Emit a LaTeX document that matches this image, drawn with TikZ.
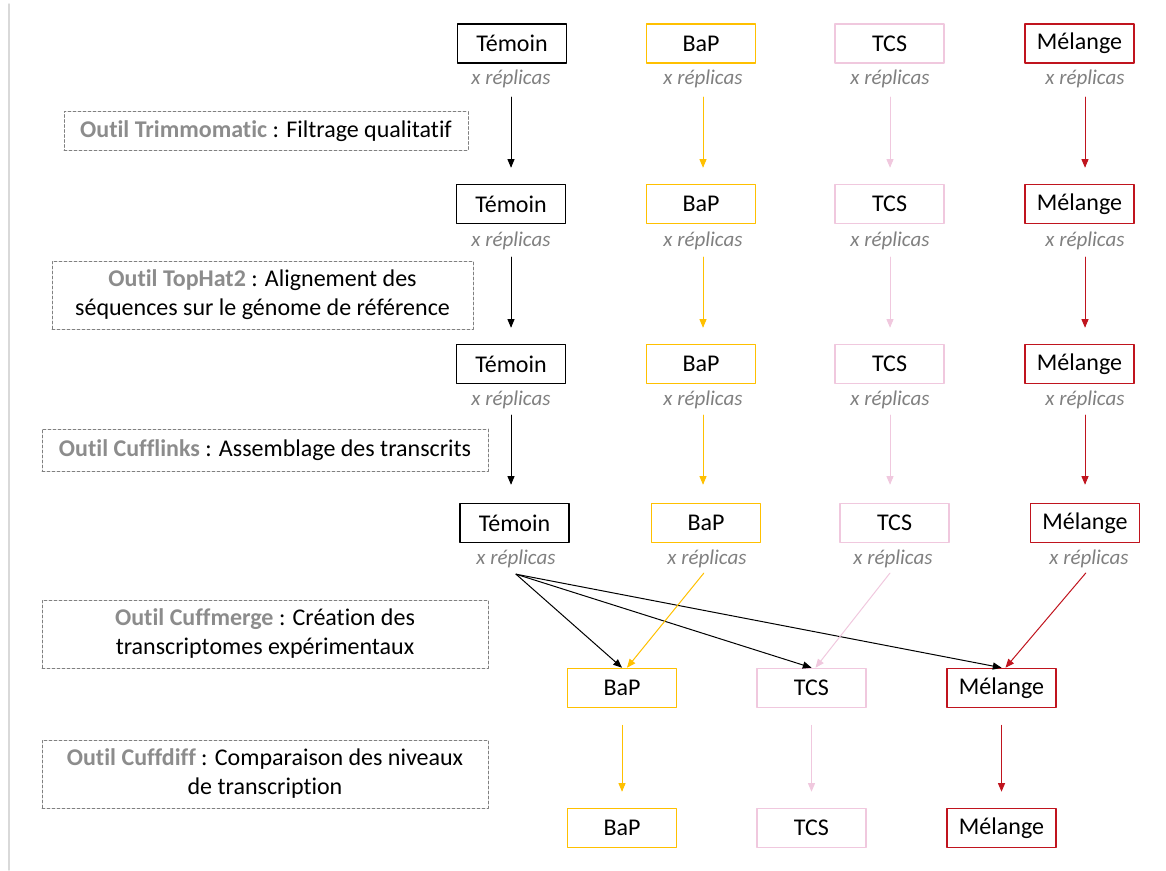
\documentclass[tikz,border=0pt]{standalone}
\usepackage{fontspec}
\setmainfont{Carlito}[Ligatures=NoCommon]
\usetikzlibrary{arrows}
\definecolor{jaune}{RGB}{255,192,0}
\definecolor{rose}{RGB}{240,200,222}
\definecolor{rouge}{RGB}{192,20,30}
\definecolor{grisrep}{RGB}{128,128,128}
\definecolor{grisoutil}{RGB}{140,140,140}
\tikzset{
	boite/.style={draw,line width=1.6pt,minimum width=109pt,minimum height=39pt,inner sep=0pt,font=\fontsize{24}{28}\selectfont},
	repl/.style={text=grisrep,inner sep=1pt,font=\fontsize{21}{24}\selectfont\itshape},
	outil/.style={draw=grisrep,dash pattern=on 3pt off 2pt,line width=0.8pt,align=center,inner sep=0pt,font=\fontsize{24}{29}\selectfont},
	fl/.style={->,line width=1pt},
}
\newcommand{\nomoutil}[1]{\textcolor{grisoutil}{\textbf{#1}}}

\begin{document}
\begin{tikzpicture}[line cap=round,line join=round,>=triangle 45,x=1pt,y=-1pt]
	\useasboundingbox (0,0) rectangle (1166,870);
	\draw [line width=1.5pt,color=black!15] (9,4) -- (9,870);
	% les outils
	\node[outil,minimum width=404pt,minimum height=39pt] (o1) at (266,131) {\nomoutil{Outil Trimmomatic} : Filtrage qualitatif};
	\node[outil,minimum width=421pt,minimum height=68pt] (o2) at (262.5,295) {\nomoutil{Outil TopHat2} : Alignement des\\séquences sur le génome de référence};
	\node[outil,minimum width=446pt,minimum height=42pt] (o3) at (265,450) {\nomoutil{Outil Cufflinks} : Assemblage des transcrits};
	\node[outil,minimum width=446pt,minimum height=68pt] (o4) at (265,634) {\nomoutil{Outil Cuffmerge} : Création des\\transcriptomes expérimentaux};
	\node[outil,minimum width=446pt,minimum height=68pt] (o5) at (265,774) {\nomoutil{Outil Cuffdiff} : Comparaison des niveaux\\de transcription};
	% lignes 1 a 3
	\node[boite] (t1) at (512,43.5) {Témoin};
	\node[boite,draw=jaune] (b1) at (701,43.5) {BaP};
	\node[boite,draw=rose] (c1) at (889.5,43.5) {TCS};
	\node[boite,draw=rouge] (m1) at (1079.5,43.5) {Mélange};
	\node[repl] (rt1) at (511,79) {x réplicas};
	\node[repl] (rb1) at (703,79) {x réplicas};
	\node[repl] (rc1) at (890,79) {x réplicas};
	\node[repl] (rm1) at (1085,79) {x réplicas};
	\node[boite] (t2) at (511,204) {Témoin};
	\node[boite,draw=jaune] (b2) at (701,204) {BaP};
	\node[boite,draw=rose] (c2) at (889.5,204) {TCS};
	\node[boite,draw=rouge] (m2) at (1079.5,204) {Mélange};
	\node[repl] (rt2) at (511,241) {x réplicas};
	\node[repl] (rb2) at (703,241) {x réplicas};
	\node[repl] (rc2) at (890,241) {x réplicas};
	\node[repl] (rm2) at (1085,241) {x réplicas};
	\node[boite] (t3) at (511,364) {Témoin};
	\node[boite,draw=jaune] (b3) at (701,364) {BaP};
	\node[boite,draw=rose] (c3) at (889.5,364) {TCS};
	\node[boite,draw=rouge] (m3) at (1079.5,364) {Mélange};
	\node[repl] (rt3) at (511,400) {x réplicas};
	\node[repl] (rb3) at (703,400) {x réplicas};
	\node[repl] (rc3) at (890,400) {x réplicas};
	\node[repl] (rm3) at (1085,400) {x réplicas};
	% ligne 4
	\node[boite] (t4) at (514.5,523) {Témoin};
	\node[boite,draw=jaune] (b4) at (706,523) {BaP};
	\node[boite,draw=rose] (c4) at (894.5,523) {TCS};
	\node[boite,draw=rouge] (m4) at (1085,523) {Mélange};
	\node[repl] (rt4) at (516,559) {x réplicas};
	\node[repl] (rb4) at (707,559) {x réplicas};
	\node[repl] (rc4) at (893,559) {x réplicas};
	\node[repl] (rm4) at (1089,559) {x réplicas};
	% lignes 5 et 6
	\node[boite,draw=jaune] (b5) at (622,688) {BaP};
	\node[boite,draw=rose] (c5) at (811.5,688) {TCS};
	\node[boite,draw=rouge] (m5) at (1001.5,688) {Mélange};
	\node[boite,draw=jaune] (b6) at (622,828) {BaP};
	\node[boite,draw=rose] (c6) at (811.5,828) {TCS};
	\node[boite,draw=rouge] (m6) at (1001.5,828) {Mélange};
	% fleches verticales
	\draw[fl,shorten <=8pt,shorten >=16pt] (rt1.south) -- (rt1.south |- t2.north);
	\draw[fl,jaune,shorten <=8pt,shorten >=16pt] (rb1.south) -- (rb1.south |- b2.north);
	\draw[fl,rose,shorten <=8pt,shorten >=16pt] (rc1.south) -- (rc1.south |- c2.north);
	\draw[fl,rouge,shorten <=8pt,shorten >=16pt] (rm1.south) -- (rm1.south |- m2.north);
	\draw[fl,shorten <=6pt,shorten >=16pt] (rt2.south) -- (rt2.south |- t3.north);
	\draw[fl,jaune,shorten <=6pt,shorten >=16pt] (rb2.south) -- (rb2.south |- b3.north);
	\draw[fl,rose,shorten <=6pt,shorten >=16pt] (rc2.south) -- (rc2.south |- c3.north);
	\draw[fl,rouge,shorten <=6pt,shorten >=16pt] (rm2.south) -- (rm2.south |- m3.north);
	\draw[fl,shorten <=5pt,shorten >=18pt] (rt3.south) -- (rt3.south |- t4.north);
	\draw[fl,jaune,shorten <=5pt,shorten >=18pt] (rb3.south) -- (rb3.south |- b4.north);
	\draw[fl,rose,shorten <=5pt,shorten >=18pt] (rc3.south) -- (rc3.south |- c4.north);
	\draw[fl,rouge,shorten <=5pt,shorten >=18pt] (rm3.south) -- (rm3.south |- m4.north);
	% vers les transcriptomes
	\coordinate (dt) at ([yshift=-5pt]rt4.south);
	\draw[fl] (dt) -- (b5.north);
	\draw[fl] (dt) -- (c5.north);
	\draw[fl] (dt) -- (m5.north);
	\draw[fl,jaune,shorten <=5pt] (rb4.south) -- ([xshift=5pt]b5.north);
	\draw[fl,rose,shorten <=5pt] (rc4.south) -- ([xshift=4pt]c5.north);
	\draw[fl,rouge,shorten <=5pt] (rm4.south) -- ([xshift=4pt]m5.north);
	\draw[fl,jaune,shorten <=17pt,shorten >=16pt] (b5.south) -- (b6.north);
	\draw[fl,rose,shorten <=17pt,shorten >=16pt] (c5.south) -- (c6.north);
	\draw[fl,rouge,shorten <=17pt,shorten >=16pt] (m5.south) -- (m6.north);
\end{tikzpicture}
\end{document}
